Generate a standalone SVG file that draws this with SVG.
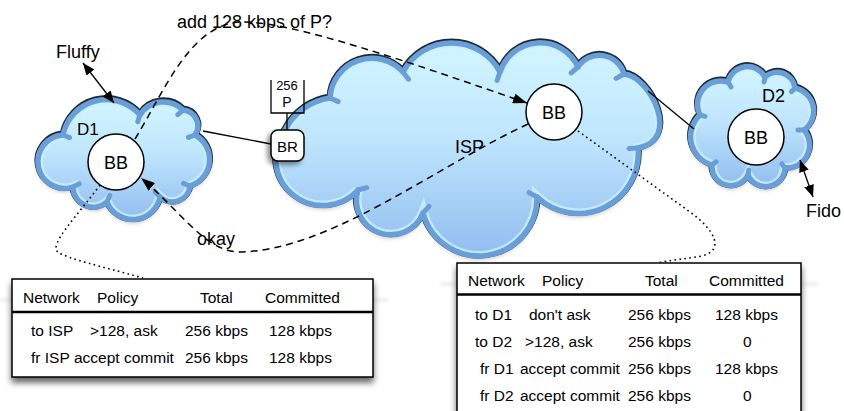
<svg xmlns="http://www.w3.org/2000/svg" width="844" height="411" viewBox="0 0 844 411">
  <style>
    text { font-family: "Liberation Sans", Arial, Helvetica, sans-serif; fill: #000; }
    .lbl { font-size: 18px; }
    .tbl { font-size: 15.5px; }
    .mid { text-anchor: middle; }
    .cloud-shadow { fill: #000; opacity: 0.28; }
    .cloud-rim { fill: none; stroke: #1c2a38; stroke-width: 7; stroke-linejoin: round; }
    .cloud-body { fill: url(#cloudFill); }
    .cloud-glow { fill: none; stroke: #c9f0ff; stroke-width: 10; opacity: 0.85; }
    .cloud-edge { fill: none; stroke: #6a9ed6; stroke-width: 5.5; stroke-linejoin: round; }
    .fold { fill: none; stroke: #6a9ed6; stroke-width: 5; stroke-linecap: round; }
    .node { fill: #fff; stroke: #000; stroke-width: 1.5; }
    .wire { fill: none; stroke: #000; stroke-width: 1.3; }
    .dash { fill: none; stroke: #000; stroke-width: 1.5; stroke-dasharray: 7 5; }
    .dot { fill: none; stroke: #000; stroke-width: 1.6; stroke-dasharray: 1.6 3.4; }
    .table { fill: #fff; stroke: #000; stroke-width: 1.5; }
    .rule { stroke: #000; stroke-width: 2.5; }
  </style>
  <defs>
    <linearGradient id="cloudFill" x1="0" y1="0" x2="0" y2="1">
      <stop offset="0" stop-color="#d2f6ff"/>
      <stop offset="0.45" stop-color="#bfe5fd"/>
      <stop offset="1" stop-color="#92bdef"/>
    </linearGradient>
    <filter id="blur3" x="-10%" y="-10%" width="120%" height="130%">
      <feGaussianBlur stdDeviation="2.5"/>
    </filter>
    <filter id="dropShadow" x="-10%" y="-10%" width="120%" height="140%">
      <feGaussianBlur in="SourceAlpha" stdDeviation="3"/>
      <feOffset dx="0" dy="5" result="off"/>
      <feComponentTransfer><feFuncA type="linear" slope="0.6"/></feComponentTransfer>
      <feMerge><feMergeNode/><feMergeNode in="SourceGraphic"/></feMerge>
    </filter>
    <filter id="smallShadow" x="-40%" y="-40%" width="180%" height="180%">
      <feGaussianBlur in="SourceAlpha" stdDeviation="2.5"/>
      <feOffset dx="-3" dy="3" result="off"/>
      <feComponentTransfer><feFuncA type="linear" slope="0.45"/></feComponentTransfer>
      <feMerge><feMergeNode/><feMergeNode in="SourceGraphic"/></feMerge>
    </filter>
    <filter id="haze" x="-5%" y="-200%" width="110%" height="500%">
      <feGaussianBlur stdDeviation="1.5"/>
    </filter>

    <!-- cloud outlines: chains of outward bulges between notches, clockwise -->
    <path id="shapeD1" d="M63,135 A44.3,44.3 0 0 1 140,115 A27.6,27.6 0 0 1 183,110 A16,16 0 0 1 195,135 A27.8,27.8 0 0 1 190,186 A17.8,17.8 0 0 1 160,197 A27.7,27.7 0 0 1 107,202 A20.4,20.4 0 0 1 73,187 A26.7,26.7 0 1 1 63,135 Z"/>
    <path id="shapeIsp" d="M285,130 A60,60 0 0 1 330,98 A42,42 0 0 1 403,72 A55,55 0 0 1 500,72 A42,42 0 0 1 578,67 A25.5,25.5 0 0 1 624,74 C650,76 682,140 638,148 A60,60 0 0 1 537,197 A58,58 0 0 1 423,213 A34.5,34.5 0 0 1 358,190 A47.3,47.3 0 0 1 285,130 Z"/>
    <path id="shapeD2" d="M700,115 A23.5,23.5 0 0 1 728,82 A20,20 0 0 1 765,77 A18,18 0 0 1 795,88 A23.5,23.5 0 0 1 804,130 A23,23 0 0 1 785,168 A19.3,19.3 0 0 1 748,175 A19,19 0 0 1 712,165 A29.5,29.5 0 0 1 700,115 Z"/>
    <clipPath id="clipD1"><use href="#shapeD1"/></clipPath>
    <clipPath id="clipIsp"><use href="#shapeIsp"/></clipPath>
    <clipPath id="clipD2"><use href="#shapeD2"/></clipPath>

    <marker id="head" viewBox="0 0 14 10" refX="14" refY="5" markerWidth="14" markerHeight="10" markerUnits="userSpaceOnUse" orient="auto">
      <path d="M0,0 L14,5 L0,10 Z" fill="#000"/>
    </marker>
    <marker id="tip" viewBox="0 0 12 10" refX="12" refY="5" markerWidth="12" markerHeight="10" markerUnits="userSpaceOnUse" orient="auto-start-reverse">
      <path d="M0,0 L12,5 L0,10 Z" fill="#000"/>
    </marker>
  </defs>

  <rect width="844" height="411" fill="#fff"/>

  <!-- faint bands behind the table headers -->
  <rect x="0" y="298" width="388" height="4" fill="#e4e4e4" opacity="0.6" filter="url(#haze)"/>
  <rect x="440" y="282" width="378" height="4" fill="#e4e4e4" opacity="0.6" filter="url(#haze)"/>

  <!-- domain D1 -->
  <g id="cloud-d1">
    <use href="#shapeD1" class="cloud-shadow" transform="translate(0,3)" filter="url(#blur3)"/>
    <use href="#shapeD1" class="cloud-rim" transform="translate(0,-1)"/>
    <use href="#shapeD1" class="cloud-body"/>
    <use href="#shapeD1" class="cloud-glow" clip-path="url(#clipD1)"/>
    <use href="#shapeD1" class="cloud-edge"/>
    <path class="fold" d="M140,115 L137.8,121.6 M183,110 L177.7,114.6 M195,135 L188.4,137.4 M190,186 L183.5,183.4 M160,197 L155.2,191.9 M107,202 L109.8,195.6 M73,187 L79.2,183.8 M63,135 L69.5,137.6"/>
    <text class="lbl" x="77" y="135" style="font-size:17px">D1</text>
  </g>

  <!-- ISP backbone -->
  <g id="cloud-isp">
    <use href="#shapeIsp" class="cloud-shadow" transform="translate(0,3)" filter="url(#blur3)"/>
    <use href="#shapeIsp" class="cloud-rim" transform="translate(0,-1)"/>
    <use href="#shapeIsp" class="cloud-body"/>
    <use href="#shapeIsp" class="cloud-glow" clip-path="url(#clipIsp)"/>
    <use href="#shapeIsp" class="cloud-edge"/>
    <path class="fold" d="M330,98 L338.2,101.6 M403,72 L408.5,79.2 M500,72 L497.1,80.5 M578,67 L571.2,72.9 M624,74 L616.1,78.4 M638,148 L629,148.6 M537,197 L529.1,192.6 M423,213 L429,206.3 M358,190 L366.7,187.7"/>
    <text class="lbl" x="455" y="153">ISP</text>
  </g>

  <!-- domain D2 -->
  <g id="cloud-d2">
    <use href="#shapeD2" class="cloud-shadow" transform="translate(0,3)" filter="url(#blur3)"/>
    <use href="#shapeD2" class="cloud-rim" transform="translate(0,-1)"/>
    <use href="#shapeD2" class="cloud-body"/>
    <use href="#shapeD2" class="cloud-glow" clip-path="url(#clipD2)"/>
    <use href="#shapeD2" class="cloud-edge"/>
    <path class="fold" d="M728,82 L731,87 M765,77 L764,82 M795,88 L791.5,91.6 M804,130 L798,130 M785,168 L781.9,164 M748,175 L748.8,170 M712,165 L716,161.8 M700,115 L705,116.3"/>
    <text class="lbl" x="762" y="102">D2</text>
  </g>

  <!-- connectors -->
  <g id="connectors">
    <line class="wire" x1="203" y1="131" x2="271" y2="144"/>
    <line class="wire" x1="287" y1="113" x2="287" y2="130"/>
    <line class="wire" x1="648" y1="91" x2="694" y2="129"/>
    <line class="wire" x1="83" y1="63" x2="114" y2="103" marker-start="url(#tip)" marker-end="url(#tip)" stroke-width="1.6"/>
    <line class="wire" x1="800" y1="160" x2="813" y2="197" marker-start="url(#tip)" marker-end="url(#tip)" stroke-width="1.6"/>
    <!-- request D1 -> ISP -->
    <path class="dash" d="M135,139 C165,90 190,25 240,22 C290,20 420,66 527,103" marker-end="url(#head)"/>
    <!-- reply ISP -> D1 -->
    <path class="dash" d="M528,124 C430,170 330,250 240,252 C205,252 180,210 141,178" marker-end="url(#head)"/>
    <!-- state links to the tables -->
    <path class="dot" d="M100,185 C78,215 48,245 58,252 C68,259 100,266 143,278"/>
    <path class="dot" d="M578,131 L690,212 C715,230 725,250 702,256 C686,259 670,260 657,263"/>
  </g>

  <!-- border router with its reservation tag -->
  <g id="node-br">
    <path class="wire" d="M271,80 V113 H304 V80"/>
    <text class="mid" x="287" y="90" style="font-size:13px">256</text>
    <text class="mid" x="287" y="107" style="font-size:14px">P</text>
    <rect class="node" x="271" y="130" width="33" height="31" rx="7" filter="url(#smallShadow)"/>
    <text class="mid" x="287.5" y="152" style="font-size:15px">BR</text>
  </g>

  <!-- bandwidth brokers -->
  <g id="node-bb-d1">
    <circle class="node" cx="116" cy="162" r="28"/>
    <text class="mid lbl" x="116" y="168.5">BB</text>
  </g>
  <g id="node-bb-isp">
    <circle class="node" cx="554" cy="112" r="28"/>
    <text class="mid lbl" x="554" y="118.5">BB</text>
  </g>
  <g id="node-bb-d2">
    <circle class="node" cx="756" cy="137" r="28"/>
    <text class="mid lbl" x="756" y="143.5">BB</text>
  </g>

  <!-- hosts and message labels -->
  <g id="labels">
    <text class="lbl" x="56" y="58">Fluffy</text>
    <text class="lbl" x="806" y="217">Fido</text>
    <text class="lbl" x="177" y="28">add 128 kbps of P?</text>
    <text class="lbl" x="197" y="245">okay</text>
  </g>

  <!-- D1 broker state -->
  <g id="table-d1" class="tbl">
    <rect class="table" x="12" y="279" width="361" height="98" filter="url(#dropShadow)"/>
    <line class="rule" x1="12" y1="312" x2="373" y2="312"/>
    <text class="tbl" x="23" y="303">Network</text>
    <text class="tbl" x="97" y="303">Policy</text>
    <text class="tbl" x="200" y="303">Total</text>
    <text class="tbl" x="265" y="303">Committed</text>
    <text class="tbl" x="31" y="336">to ISP</text>
    <text class="tbl" x="90" y="336">&gt;128, ask</text>
    <text class="tbl" x="185" y="336">256 kbps</text>
    <text class="tbl" x="269" y="336">128 kbps</text>
    <text class="tbl" x="31" y="363">fr ISP</text>
    <text class="tbl" x="74" y="363">accept commit</text>
    <text class="tbl" x="185" y="363">256 kbps</text>
    <text class="tbl" x="269" y="363">128 kbps</text>
  </g>

  <!-- ISP broker state -->
  <g id="table-isp" class="tbl">
    <rect class="table" x="457" y="263" width="344" height="170" filter="url(#dropShadow)"/>
    <line class="rule" x1="457" y1="294.5" x2="801" y2="294.5"/>
    <text class="tbl" x="468" y="286">Network</text>
    <text class="tbl" x="542" y="286">Policy</text>
    <text class="tbl" x="645" y="286">Total</text>
    <text class="tbl" x="709" y="286">Committed</text>
    <text class="tbl" x="475" y="320">to D1</text>
    <text class="tbl" x="529" y="320">don't ask</text>
    <text class="tbl" x="628" y="320">256 kbps</text>
    <text class="tbl" x="715" y="320">128 kbps</text>
    <text class="tbl" x="475" y="347">to D2</text>
    <text class="tbl" x="525" y="347">&gt;128, ask</text>
    <text class="tbl" x="628" y="347">256 kbps</text>
    <text class="tbl" x="743" y="347">0</text>
    <text class="tbl" x="480" y="374">fr D1</text>
    <text class="tbl" x="520" y="374">accept commit</text>
    <text class="tbl" x="628" y="374">256 kbps</text>
    <text class="tbl" x="715" y="374">128 kbps</text>
    <text class="tbl" x="480" y="401">fr D2</text>
    <text class="tbl" x="520" y="401">accept commit</text>
    <text class="tbl" x="628" y="401">256 kbps</text>
    <text class="tbl" x="743" y="401">0</text>
  </g>
</svg>
